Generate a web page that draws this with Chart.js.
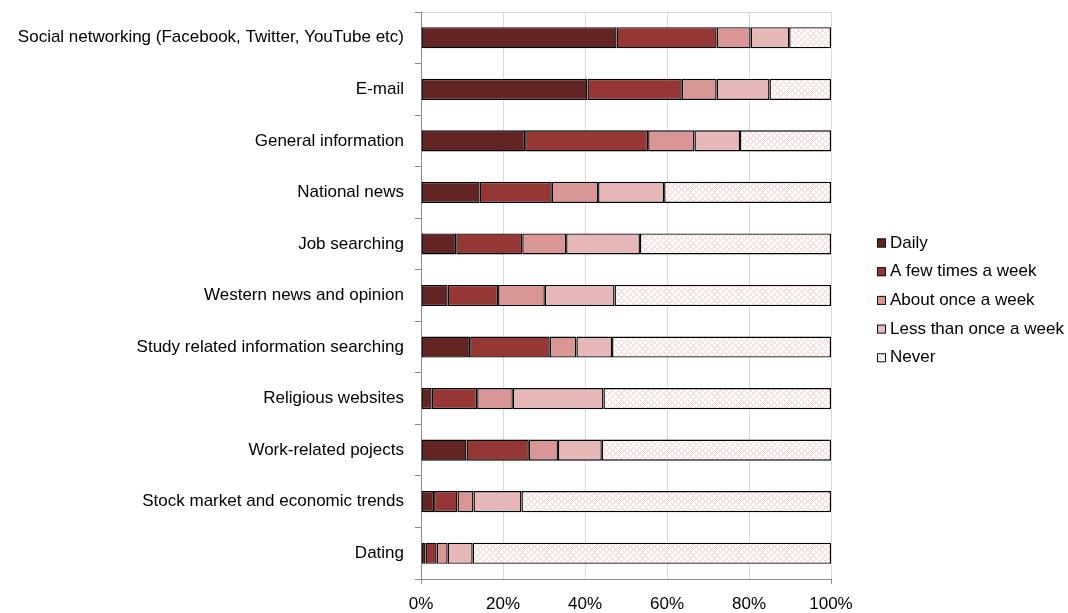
<!DOCTYPE html>
<html>
<head>
<meta charset="utf-8">
<script src="https://cdn.jsdelivr.net/npm/chart.js@4"></script>
<style>
  html, body { margin: 0; padding: 0; background: #fff; }
  #wrap { width: 1068px; height: 613px; }
</style>
</head>
<body>
<div id="wrap"><canvas id="usage" width="1068" height="613"></canvas></div>
<script>
const categories = [
    'Social networking (Facebook, Twitter, YouTube etc)',
    'E-mail',
    'General information',
    'National news',
    'Job searching',
    'Western news and opinion',
    'Study related information searching',
    'Religious websites',
    'Work-related pojects',
    'Stock market and economic trends',
    'Dating'
];

const seriesNames = ['Daily', 'A few times a week', 'About once a week', 'Less than once a week', 'Never'];

const daily     = [47.7, 40.6, 25.4, 14.3,  8.6,  6.5, 12.0,  2.6, 11.1,  3.2,  1.1];
const fewTimes  = [24.4, 23.0, 30.0, 17.6, 16.1, 12.3, 19.4, 11.1, 15.2,  5.7,  2.7];
const onceWeek  = [ 8.3,  8.5, 11.3, 11.3, 10.7, 11.4,  6.5,  8.7,  7.1,  3.9,  2.7];
const lessOnce  = [ 9.4, 12.9, 11.1, 16.1, 18.0, 17.0,  8.7, 22.1, 10.7, 11.7,  6.1];
const never     = [10.2, 15.0, 22.2, 40.7, 46.6, 52.8, 53.4, 55.5, 55.9, 75.5, 87.4];

const xTicks = [0, 20, 40, 60, 80, 100];

// light trellis fill used by Excel for the "Never" series
function trellisPattern() {
    const n = 6;
    const c = document.createElement('canvas');
    c.width = n;
    c.height = n;
    const g = c.getContext('2d');
    g.fillStyle = '#ffffff';
    g.fillRect(0, 0, n, n);
    g.fillStyle = '#f2cdcc';
    for (let x = 0; x < n; x++) {
        for (let y = 0; y < n; y++) {
            if ((x + y) % n === 0 || (x - y + n) % n === 0) g.fillRect(x, y, 1, 1);
        }
    }
    return g.createPattern(c, 'repeat');
}

const font = { family: '"Liberation Sans", Arial, sans-serif', size: 17 };

function series(label, data, color) {
    return {
        label: label,
        data: data,
        backgroundColor: color,
        borderColor: '#000000',
        borderWidth: 1.4,
        borderSkipped: false,
        inflateAmount: 0,
        barPercentage: 0.41,
        categoryPercentage: 1.0
    };
}

// Excel-style legend: small outlined squares, stacked at the right
const sideLegend = {
    id: 'sideLegend',
    afterDraw(chart) {
        const ctx = chart.ctx;
        const x = 877;
        const y0 = 243;
        const step = 28.7;
        ctx.save();
        ctx.font = font.size + 'px ' + font.family;
        ctx.textBaseline = 'middle';
        ctx.textAlign = 'left';
        chart.data.datasets.forEach((ds, i) => {
            const y = y0 + i * step;
            ctx.fillStyle = ds.backgroundColor;
            ctx.fillRect(x, y - 4.5, 9, 9);
            ctx.strokeStyle = '#111111';
            ctx.lineWidth = 1;
            ctx.strokeRect(x + 0.5, y - 4, 8, 8);
            ctx.fillStyle = '#000';
            ctx.fillText(ds.label, x + 13, y);
        });
        ctx.restore();
    }
};

const ctx = document.getElementById('usage').getContext('2d');

const chart = new Chart(ctx, {
    type: 'bar',
    data: {
        labels: categories,
        datasets: [
            series(seriesNames[0], daily, '#632523'),
            series(seriesNames[1], fewTimes, '#953735'),
            series(seriesNames[2], onceWeek, '#d99694'),
            series(seriesNames[3], lessOnce, '#e6b9b8'),
            series(seriesNames[4], never, trellisPattern())
        ]
    },
    plugins: [sideLegend],
    options: {
        responsive: false,
        animation: false,
        indexAxis: 'y',
        layout: {
            padding: { left: 0, right: 237, top: 0, bottom: 0 }
        },
        plugins: {
            legend: { display: false },
            tooltip: { enabled: false }
        },
        scales: {
            x: {
                stacked: true,
                min: 0,
                max: 100,
                afterBuildTicks: function(scale) {
                    scale.ticks = xTicks.map(v => ({ value: v }));
                },
                afterFit: function(scale) {
                    scale.height = 34;
                    scale.paddingLeft = 0;
                    scale.paddingRight = 0;
                },
                ticks: {
                    color: '#000',
                    font: font,
                    padding: 10,
                    maxRotation: 0,
                    callback: function(value) {
                        return value + '%';
                    }
                },
                grid: {
                    color: '#d9d9d9',
                    tickLength: 5,
                    tickColor: function(c) {
                        return (c.index === 0 || c.index === xTicks.length - 1) ? '#8c8c8c' : 'rgba(0,0,0,0)';
                    }
                },
                border: { color: '#8c8c8c', width: 1 }
            },
            xTop: {
                type: 'linear',
                position: 'top',
                min: 0,
                max: 100,
                afterFit: function(scale) {
                    scale.height = 12;
                    scale.paddingLeft = 0;
                    scale.paddingRight = 0;
                },
                ticks: { display: false },
                grid: { display: false },
                border: { color: '#d9d9d9', width: 1 }
            },
            y: {
                stacked: true,
                afterFit: function(scale) {
                    scale.width = 421;
                    scale.paddingTop = 0;
                    scale.paddingBottom = 0;
                },
                ticks: {
                    color: '#000',
                    font: font,
                    padding: 11
                },
                grid: {
                    offset: true,
                    drawOnChartArea: false,
                    tickLength: 6,
                    color: '#8c8c8c'
                },
                border: { color: '#8c8c8c', width: 1 }
            }
        }
    }
});
</script>
</body>
</html>
